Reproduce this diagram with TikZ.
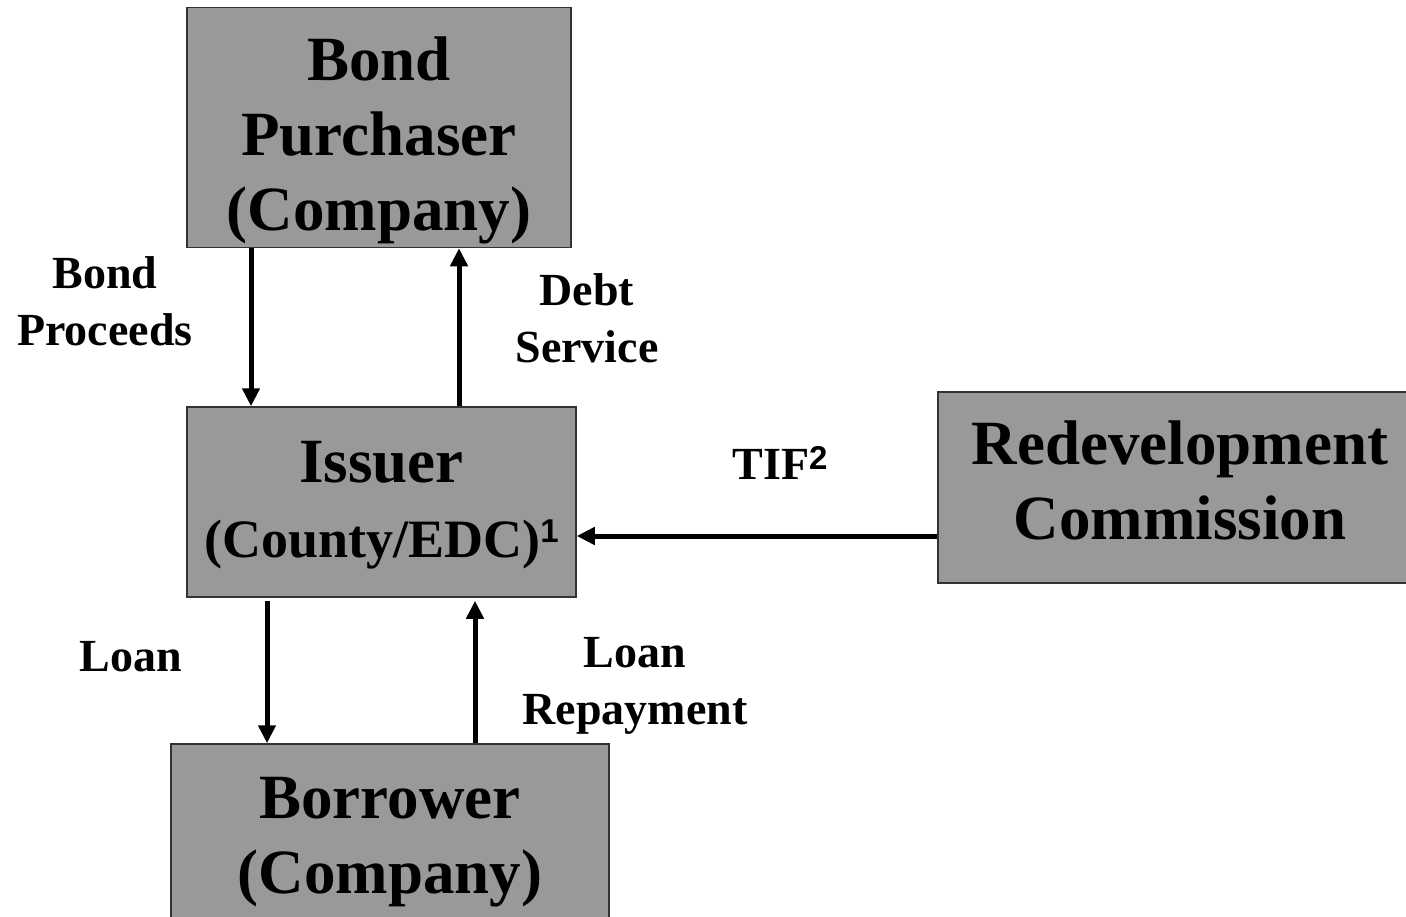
\documentclass[tikz,border=0pt]{standalone}
\usepackage{fontspec}
\setmainfont{Liberation Serif}
\newfontfamily\supfont{Liberation Sans}
\usepackage{tikz}
\usetikzlibrary{arrows.meta}
\usetikzlibrary{positioning}
\definecolor{boxgray}{HTML}{999999}
\definecolor{edgegray}{HTML}{333333}
\newcommand{\supnum}[2]{\raisebox{#1}{\fontsize{33}{33}\selectfont\supfont\bfseries #2}}
\tikzset{
box/.style={draw=edgegray, line width=1.5pt, fill=boxgray, rectangle, align=center, inner sep=0pt, font=\fontsize{63}{75}\selectfont\bfseries},
flow/.style={line width=5pt, -{Triangle[width=17pt,length=18pt]}},
lbl/.style={align=center, inner sep=0pt, font=\fontsize{46}{57}\selectfont\bfseries},
}

\begin{document}
\begin{tikzpicture}[x=1pt,y=1pt]
\clip (0,0) rectangle (1406,-916);
\fill[white] (0,0) rectangle (1406,-916);

\node[box, minimum width=384pt, minimum height=240pt] (purch) at (379,-127.5) {\rule{0pt}{69pt}Bond\\Purchaser\\(Company)};
\node[box, minimum width=389pt, minimum height=190pt] (issuer) at (381.5,-502) {\rule{0pt}{47pt}Issuer\\{\fontsize{54}{77}\selectfont(County/EDC)\supnum{15pt}{1}}};
\node[box, minimum width=438pt, minimum height=182pt] (borrow) at (390,-835) {\rule{0pt}{55pt}Borrower\\(Company)};
\node[box, minimum width=484pt, minimum height=191pt] (redev) at (1180,-487.5) {Redevelopment\\Commission\rule[-14pt]{0pt}{14pt}};

\draw[flow] ([xshift=-128pt]purch.south) -- ([xshift=-130.5pt]issuer.north);
\draw[flow] ([xshift=77.5pt]issuer.north) -- ([xshift=80pt]purch.south);
\draw[flow, shorten <=3pt] ([xshift=-114.5pt]issuer.south) -- ([xshift=-123pt]borrow.north);
\draw[flow, shorten >=3pt] ([xshift=85pt]borrow.north) -- ([xshift=93.5pt]issuer.south);
\draw[flow] ([yshift=-48.5pt]redev.west) -- ([yshift=-34pt]issuer.east);

\node[lbl] (bondproc) at (105,-301) {Bond\\Proceeds};
\node[lbl] (debtserv) at (587,-318) {Debt\\Service};
\node[lbl] (tif) at (780,-463) {TIF\supnum{10pt}{2}};
\node[lbl] (loan) at (131,-657) {Loan};
\node[lbl] (loanrep) at (635,-686) {Loan\\Repayment};

\end{tikzpicture}
\end{document}
